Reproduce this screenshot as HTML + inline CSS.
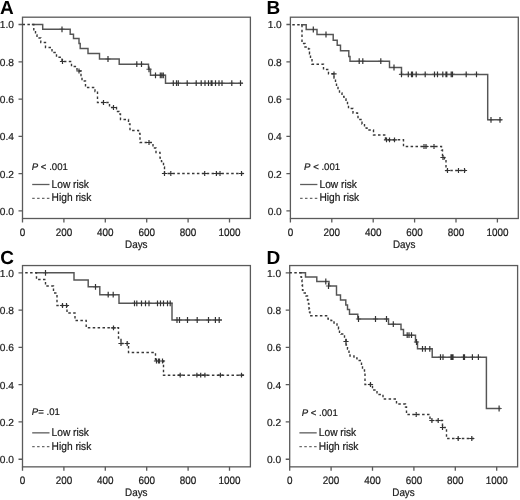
<!DOCTYPE html>
<html><head><meta charset="utf-8"><title>Kaplan-Meier curves</title>
<style>
html,body{margin:0;padding:0;background:#fff;}
body{width:520px;height:500px;overflow:hidden;}
svg{display:block;font-family:"Liberation Sans",sans-serif;}
text.lab{font-size:9.9px;fill:#1a1a1a;}
text.leg{font-size:10.2px;fill:#1a1a1a;}
text.ylab{font-size:10.2px;fill:#1a1a1a;}
text.pv{font-size:9.6px;fill:#1a1a1a;}
text{stroke:#1a1a1a;stroke-width:0.2px;}
svg{text-rendering:geometricPrecision;}
#wrap{width:520px;height:500px;will-change:transform;}
text.let{font-size:19px;font-weight:bold;fill:#000;stroke:none;}
</style></head>
<body>
<div id="wrap">
<svg width="520" height="500" viewBox="0 0 520 500">
<rect width="520" height="500" fill="#fff"/>
<g transform="translate(0.0,0.0)">
<rect x="22.5" y="17.2" width="227.9" height="201.3" fill="none" stroke="#5a5a5a" stroke-width="1.3"/>
<path d="M18.5,210.90H22.5M18.5,173.62H22.5M18.5,136.34H22.5M18.5,99.06H22.5M18.5,61.78H22.5M18.5,24.50H22.5M22.50,218.5V222.5M63.90,218.5V222.5M105.30,218.5V222.5M146.70,218.5V222.5M188.10,218.5V222.5M229.50,218.5V222.5" stroke="#5a5a5a" stroke-width="1.3" fill="none"/>
<text class="ylab" transform="translate(13.90,214.80) scale(1,1.0)" text-anchor="end">0.0</text><text class="ylab" transform="translate(13.90,177.52) scale(1,1.0)" text-anchor="end">0.2</text><text class="ylab" transform="translate(13.90,140.24) scale(1,1.0)" text-anchor="end">0.4</text><text class="ylab" transform="translate(13.90,102.96) scale(1,1.0)" text-anchor="end">0.6</text><text class="ylab" transform="translate(13.90,65.68) scale(1,1.0)" text-anchor="end">0.8</text><text class="ylab" transform="translate(13.90,28.40) scale(1,1.0)" text-anchor="end">1.0</text><text class="lab" transform="translate(22.50,235.60) scale(1,1.1)" text-anchor="middle">0</text><text class="lab" transform="translate(63.90,235.60) scale(1,1.1)" text-anchor="middle">200</text><text class="lab" transform="translate(105.30,235.60) scale(1,1.1)" text-anchor="middle">400</text><text class="lab" transform="translate(146.70,235.60) scale(1,1.1)" text-anchor="middle">600</text><text class="lab" transform="translate(188.10,235.60) scale(1,1.1)" text-anchor="middle">800</text><text class="lab" transform="translate(229.50,235.60) scale(1,1.1)" text-anchor="middle">1000</text>
<text class="lab" transform="translate(136.30,247.60) scale(1,1.1)" text-anchor="middle">Days</text>
<path d="M32.2,184.5H49.5" stroke="#5c5c5c" stroke-width="1.3" fill="none"/>
<path d="M32.2,198.3H49.5" stroke="#6a6a6a" stroke-width="1.2" fill="none" stroke-dasharray="2.5 2.4"/>
<text class="leg" transform="translate(51.60,187.70) scale(1,1.1)">Low risk</text>
<text class="leg" transform="translate(51.60,201.20) scale(1,1.1)">High risk</text>
</g>
<text class="let" x="0.0" y="13.6">A</text>
<text class="pv" transform="translate(31.80,169.50) scale(1,1.0)"><tspan font-style="italic">P</tspan> &lt; .001</text>
<path d="M59.4,29.3h5.2M105.4,59.0h5.2M134.2,64.2h5.2M138.9,64.2h5.2M146.4,69.3h5.2M152.9,75.3h5.2M157.7,75.3h5.2M159.2,75.3h5.2M160.7,75.3h5.2M170.7,83.2h5.2M173.9,83.2h5.2M175.7,83.2h5.2M184.6,83.2h5.2M193.6,83.2h5.2M198.6,83.2h5.2M202.4,83.2h5.2M205.9,83.2h5.2M208.6,83.2h5.2M209.4,83.2h5.2M212.9,83.2h5.2M216.4,83.2h5.2M219.4,83.2h5.2M229.2,83.2h5.2M237.9,83.2h5.2" stroke="#555555" stroke-width="1.1" fill="none"/>
<path d="M31.8,24.5 H42.7 V29.3 H70.2 V34.2 H73.5 V38.5 H79 V43.5 H80.2 V48.5 H88 V53.5 H99.5 V59 H119.2 V64.2 H148.5 V69.3 H150.5 V75.3 H165.5 V83.2 H243" stroke="#555555" stroke-width="1.45" fill="none"/>
<path d="M22.5,24.5 H33.8 V31 H35.5 V35 H37 V38 H40.8 V42.5 H45.5 V47.5 H52 V52.5 H56.5 V57.2 H62 V61.5 H71.5 V66.5 H77 V71 H81 V77 H82 V81 H85.5 V87.5 H95 V91.5 H97.5 V102.5 H109.5 V107.5 H116.5 V111.5 H119 V114 H120.5 V119.5 H128.5 V124 H130 V130.5 H138.5 V133.5 H140 V142.5 H153 V148 H156 V152.5 H160 V158 H161.5 V161.5 H163.5 V167 H164.5 V173.5 H244" stroke="#383838" stroke-width="1.4" fill="none" stroke-dasharray="2.5 2.4" stroke-dashoffset="0.0"/>
<path d="M62.0,26.4v5.8M108.0,56.1v5.8M136.8,61.3v5.8M141.5,61.3v5.8M149.0,66.4v5.8M155.5,72.4v5.8M160.3,72.4v5.8M161.8,72.4v5.8M163.3,72.4v5.8M173.3,80.3v5.8M176.5,80.3v5.8M178.3,80.3v5.8M187.2,80.3v5.8M196.2,80.3v5.8M201.2,80.3v5.8M205.0,80.3v5.8M208.5,80.3v5.8M211.2,80.3v5.8M212.0,80.3v5.8M215.5,80.3v5.8M219.0,80.3v5.8M222.0,80.3v5.8M231.8,80.3v5.8M240.5,80.3v5.8" stroke="#333333" stroke-width="1.2" fill="none"/>
<path d="M59.9,61.5h5.2M62.5,59.1v4.8M76.4,71.0h5.2M79.0,68.6v4.8M100.9,102.5h5.2M103.5,100.1v4.8M110.9,107.5h5.2M113.5,105.1v4.8M146.4,142.5h5.2M149.0,140.1v4.8M161.9,173.5h5.2M164.5,171.1v4.8M168.2,173.5h5.2M170.8,171.1v4.8M202.1,173.5h5.2M204.7,171.1v4.8M213.8,173.5h5.2M216.4,171.1v4.8M217.4,173.5h5.2M220.0,171.1v4.8M238.9,173.5h5.2M241.5,171.1v4.8" stroke="#333333" stroke-width="1.2" fill="none"/>
<g transform="translate(267.9,0.0)">
<rect x="22.5" y="17.2" width="227.9" height="201.3" fill="none" stroke="#5a5a5a" stroke-width="1.3"/>
<path d="M18.5,210.90H22.5M18.5,173.62H22.5M18.5,136.34H22.5M18.5,99.06H22.5M18.5,61.78H22.5M18.5,24.50H22.5M22.50,218.5V222.5M63.90,218.5V222.5M105.30,218.5V222.5M146.70,218.5V222.5M188.10,218.5V222.5M229.50,218.5V222.5" stroke="#5a5a5a" stroke-width="1.3" fill="none"/>
<text class="ylab" transform="translate(13.90,214.80) scale(1,1.0)" text-anchor="end">0.0</text><text class="ylab" transform="translate(13.90,177.52) scale(1,1.0)" text-anchor="end">0.2</text><text class="ylab" transform="translate(13.90,140.24) scale(1,1.0)" text-anchor="end">0.4</text><text class="ylab" transform="translate(13.90,102.96) scale(1,1.0)" text-anchor="end">0.6</text><text class="ylab" transform="translate(13.90,65.68) scale(1,1.0)" text-anchor="end">0.8</text><text class="ylab" transform="translate(13.90,28.40) scale(1,1.0)" text-anchor="end">1.0</text><text class="lab" transform="translate(22.50,235.60) scale(1,1.1)" text-anchor="middle">0</text><text class="lab" transform="translate(63.90,235.60) scale(1,1.1)" text-anchor="middle">200</text><text class="lab" transform="translate(105.30,235.60) scale(1,1.1)" text-anchor="middle">400</text><text class="lab" transform="translate(146.70,235.60) scale(1,1.1)" text-anchor="middle">600</text><text class="lab" transform="translate(188.10,235.60) scale(1,1.1)" text-anchor="middle">800</text><text class="lab" transform="translate(229.50,235.60) scale(1,1.1)" text-anchor="middle">1000</text>
<text class="lab" transform="translate(136.30,247.60) scale(1,1.1)" text-anchor="middle">Days</text>
<path d="M32.2,184.5H49.5" stroke="#5c5c5c" stroke-width="1.3" fill="none"/>
<path d="M32.2,198.3H49.5" stroke="#6a6a6a" stroke-width="1.2" fill="none" stroke-dasharray="2.5 2.4"/>
<text class="leg" transform="translate(51.60,187.70) scale(1,1.1)">Low risk</text>
<text class="leg" transform="translate(51.60,201.20) scale(1,1.1)">High risk</text>
</g>
<text class="let" x="266.4" y="13.6">B</text>
<text class="pv" transform="translate(304.10,169.90) scale(1,1.0)"><tspan font-style="italic">P</tspan> &lt; .001</text>
<path d="M310.7,29.5h5.2M323.4,34.5h5.2M356.6,61.2h5.2M360.2,61.2h5.2M378.2,61.2h5.2M391.4,67.5h5.2M398.9,74.4h5.2M405.7,74.4h5.2M408.9,74.4h5.2M409.9,74.4h5.2M413.6,74.4h5.2M422.6,74.4h5.2M431.9,74.4h5.2M434.9,74.4h5.2M440.2,74.4h5.2M443.4,74.4h5.2M444.2,74.4h5.2M448.6,74.4h5.2M449.9,74.4h5.2M463.6,74.4h5.2M473.9,74.4h5.2M488.4,119.8h5.2M497.4,119.8h5.2" stroke="#555555" stroke-width="1.1" fill="none"/>
<path d="M301,24.7 H306.2 V29.5 H317 V34.5 H333.2 V40.2 H337.2 V45.2 H340.5 V50.7 H348.8 V56.5 H350 V61.2 H389.5 V67.5 H401.5 V74.4 H487.7 V119.8 H502.2" stroke="#555555" stroke-width="1.45" fill="none"/>
<path d="M290.4,24.7 H302 V43.5 H305 V47 H308.5 V49 H309.5 V54 H310.5 V58 H312 V64.2 H323.5 V69.5 H328.5 V73.8 H334 V78 H335.5 V82 H336.5 V86 H338 V89.5 H339.5 V93 H342 V96.5 H344 V99 H346 V101 H347.5 V104.5 H348.5 V108.5 H353 V113 H357.5 V114.5 H358 V119.5 H362 V124 H364.5 V128 H367 V130 H373.5 V135 H385.5 V139.8 H403.5 V146.5 H441.5 V150 H442.5 V157.5 H444.5 V159 H446 V170.5 H466" stroke="#383838" stroke-width="1.4" fill="none" stroke-dasharray="2.5 2.4" stroke-dashoffset="3.0"/>
<path d="M313.3,26.6v5.8M326.0,31.6v5.8M359.2,58.3v5.8M362.8,58.3v5.8M380.8,58.3v5.8M394.0,64.6v5.8M401.5,71.5v5.8M408.3,71.5v5.8M411.5,71.5v5.8M412.5,71.5v5.8M416.2,71.5v5.8M425.2,71.5v5.8M434.5,71.5v5.8M437.5,71.5v5.8M442.8,71.5v5.8M446.0,71.5v5.8M446.8,71.5v5.8M451.2,71.5v5.8M452.5,71.5v5.8M466.2,71.5v5.8M476.5,71.5v5.8M491.0,116.9v5.8M500.0,116.9v5.8" stroke="#333333" stroke-width="1.2" fill="none"/>
<path d="M331.4,73.8h5.2M334.0,71.4v4.8M383.9,139.8h5.2M386.5,137.4v4.8M386.9,139.8h5.2M389.5,137.4v4.8M391.9,139.8h5.2M394.5,137.4v4.8M421.4,146.5h5.2M424.0,144.1v4.8M423.4,146.5h5.2M426.0,144.1v4.8M431.4,146.5h5.2M434.0,144.1v4.8M440.4,157.5h5.2M443.0,155.1v4.8M444.9,170.5h5.2M447.5,168.1v4.8M455.9,170.5h5.2M458.5,168.1v4.8M461.9,170.5h5.2M464.5,168.1v4.8" stroke="#333333" stroke-width="1.2" fill="none"/>
<g transform="translate(0.0,248.35)">
<rect x="22.5" y="17.2" width="227.9" height="201.3" fill="none" stroke="#5a5a5a" stroke-width="1.3"/>
<path d="M18.5,210.90H22.5M18.5,173.62H22.5M18.5,136.34H22.5M18.5,99.06H22.5M18.5,61.78H22.5M18.5,24.50H22.5M22.50,218.5V222.5M63.90,218.5V222.5M105.30,218.5V222.5M146.70,218.5V222.5M188.10,218.5V222.5M229.50,218.5V222.5" stroke="#5a5a5a" stroke-width="1.3" fill="none"/>
<text class="ylab" transform="translate(13.90,214.80) scale(1,1.0)" text-anchor="end">0.0</text><text class="ylab" transform="translate(13.90,177.52) scale(1,1.0)" text-anchor="end">0.2</text><text class="ylab" transform="translate(13.90,140.24) scale(1,1.0)" text-anchor="end">0.4</text><text class="ylab" transform="translate(13.90,102.96) scale(1,1.0)" text-anchor="end">0.6</text><text class="ylab" transform="translate(13.90,65.68) scale(1,1.0)" text-anchor="end">0.8</text><text class="ylab" transform="translate(13.90,28.40) scale(1,1.0)" text-anchor="end">1.0</text><text class="lab" transform="translate(22.50,235.60) scale(1,1.1)" text-anchor="middle">0</text><text class="lab" transform="translate(63.90,235.60) scale(1,1.1)" text-anchor="middle">200</text><text class="lab" transform="translate(105.30,235.60) scale(1,1.1)" text-anchor="middle">400</text><text class="lab" transform="translate(146.70,235.60) scale(1,1.1)" text-anchor="middle">600</text><text class="lab" transform="translate(188.10,235.60) scale(1,1.1)" text-anchor="middle">800</text><text class="lab" transform="translate(229.50,235.60) scale(1,1.1)" text-anchor="middle">1000</text>
<text class="lab" transform="translate(136.30,247.60) scale(1,1.1)" text-anchor="middle">Days</text>
<path d="M32.2,184.5H49.5" stroke="#5c5c5c" stroke-width="1.3" fill="none"/>
<path d="M32.2,198.3H49.5" stroke="#6a6a6a" stroke-width="1.2" fill="none" stroke-dasharray="2.5 2.4"/>
<text class="leg" transform="translate(51.60,187.70) scale(1,1.1)">Low risk</text>
<text class="leg" transform="translate(51.60,201.20) scale(1,1.1)">High risk</text>
</g>
<text class="let" x="0.2" y="263.5">C</text>
<text class="pv" transform="translate(31.80,415.20) scale(1,1.0)"><tspan font-style="italic">P</tspan>= .01</text>
<path d="M42.9,272.8h5.2M92.9,286.8h5.2M105.6,294.7h5.2M110.6,294.7h5.2M131.9,303.3h5.2M134.2,303.3h5.2M138.9,303.3h5.2M142.9,303.3h5.2M146.4,303.3h5.2M154.9,303.3h5.2M157.9,303.3h5.2M160.9,303.3h5.2M164.9,303.3h5.2M167.6,303.3h5.2M174.4,320.0h5.2M176.9,320.0h5.2M184.9,320.0h5.2M194.6,320.0h5.2M205.9,320.0h5.2M212.8,320.0h5.2M216.6,320.0h5.2" stroke="#555555" stroke-width="1.1" fill="none"/>
<path d="M35.3,272.8 H74 V280 H88.2 V286.8 H99.8 V294.7 H119 V303.3 H172 V320 H222" stroke="#555555" stroke-width="1.45" fill="none"/>
<path d="M22.5,272.8 H36.5 V279.5 H45.5 V286 H53.5 V293 H57 V305.5 H67 V313 H75 V320.5 H86.2 V327.8 H118.5 V338 H121 V343.5 H128.5 V352.5 H155.5 V361 H163.5 V375.2 H244.2" stroke="#383838" stroke-width="1.4" fill="none" stroke-dasharray="2.5 2.4" stroke-dashoffset="2.2"/>
<path d="M45.5,269.9v5.8M95.5,283.9v5.8M108.2,291.8v5.8M113.2,291.8v5.8M134.5,300.4v5.8M136.8,300.4v5.8M141.5,300.4v5.8M145.5,300.4v5.8M149.0,300.4v5.8M157.5,300.4v5.8M160.5,300.4v5.8M163.5,300.4v5.8M167.5,300.4v5.8M170.2,300.4v5.8M177.0,317.1v5.8M179.5,317.1v5.8M187.5,317.1v5.8M197.2,317.1v5.8M208.5,317.1v5.8M215.4,317.1v5.8M219.2,317.1v5.8" stroke="#333333" stroke-width="1.2" fill="none"/>
<path d="M59.9,305.5h5.2M62.5,303.1v4.8M63.9,305.5h5.2M66.5,303.1v4.8M110.9,327.8h5.2M113.5,325.4v4.8M118.4,343.5h5.2M121.0,341.1v4.8M124.6,343.5h5.2M127.2,341.1v4.8M153.9,361.0h5.2M156.5,358.6v4.8M155.9,361.0h5.2M158.5,358.6v4.8M156.9,361.0h5.2M159.5,358.6v4.8M159.9,361.0h5.2M162.5,358.6v4.8M177.6,375.2h5.2M180.2,372.8v4.8M194.3,375.2h5.2M196.9,372.8v4.8M198.1,375.2h5.2M200.7,372.8v4.8M202.3,375.2h5.2M204.9,372.8v4.8M217.8,375.2h5.2M220.4,372.8v4.8M238.9,375.2h5.2M241.5,372.8v4.8" stroke="#333333" stroke-width="1.2" fill="none"/>
<g transform="translate(267.2,248.35)">
<rect x="22.5" y="17.2" width="227.9" height="201.3" fill="none" stroke="#5a5a5a" stroke-width="1.3"/>
<path d="M18.5,210.90H22.5M18.5,173.62H22.5M18.5,136.34H22.5M18.5,99.06H22.5M18.5,61.78H22.5M18.5,24.50H22.5M22.50,218.5V222.5M63.90,218.5V222.5M105.30,218.5V222.5M146.70,218.5V222.5M188.10,218.5V222.5M229.50,218.5V222.5" stroke="#5a5a5a" stroke-width="1.3" fill="none"/>
<text class="ylab" transform="translate(13.90,214.80) scale(1,1.0)" text-anchor="end">0.0</text><text class="ylab" transform="translate(13.90,177.52) scale(1,1.0)" text-anchor="end">0.2</text><text class="ylab" transform="translate(13.90,140.24) scale(1,1.0)" text-anchor="end">0.4</text><text class="ylab" transform="translate(13.90,102.96) scale(1,1.0)" text-anchor="end">0.6</text><text class="ylab" transform="translate(13.90,65.68) scale(1,1.0)" text-anchor="end">0.8</text><text class="ylab" transform="translate(13.90,28.40) scale(1,1.0)" text-anchor="end">1.0</text><text class="lab" transform="translate(22.50,235.60) scale(1,1.1)" text-anchor="middle">0</text><text class="lab" transform="translate(63.90,235.60) scale(1,1.1)" text-anchor="middle">200</text><text class="lab" transform="translate(105.30,235.60) scale(1,1.1)" text-anchor="middle">400</text><text class="lab" transform="translate(146.70,235.60) scale(1,1.1)" text-anchor="middle">600</text><text class="lab" transform="translate(188.10,235.60) scale(1,1.1)" text-anchor="middle">800</text><text class="lab" transform="translate(229.50,235.60) scale(1,1.1)" text-anchor="middle">1000</text>
<text class="lab" transform="translate(136.30,247.60) scale(1,1.1)" text-anchor="middle">Days</text>
<path d="M32.2,184.5H49.5" stroke="#5c5c5c" stroke-width="1.3" fill="none"/>
<path d="M32.2,198.3H49.5" stroke="#6a6a6a" stroke-width="1.2" fill="none" stroke-dasharray="2.5 2.4"/>
<text class="leg" transform="translate(51.60,187.70) scale(1,1.1)">Low risk</text>
<text class="leg" transform="translate(51.60,201.20) scale(1,1.1)">High risk</text>
</g>
<text class="let" x="266.4" y="264.0">D</text>
<text class="pv" transform="translate(301.70,415.50) scale(1,1.0)"><tspan font-style="italic">P</tspan> &lt; .001</text>
<path d="M323.2,281.5h5.2M325.9,286.0h5.2M355.9,319.0h5.2M372.9,319.0h5.2M383.9,319.0h5.2M390.7,324.2h5.2M404.6,335.2h5.2M406.4,335.2h5.2M408.9,335.2h5.2M413.9,342.0h5.2M419.9,348.8h5.2M422.7,348.8h5.2M427.2,348.8h5.2M437.9,357.2h5.2M440.4,357.2h5.2M448.4,357.2h5.2M449.6,357.2h5.2M450.4,357.2h5.2M460.9,357.2h5.2M461.9,357.2h5.2M469.8,357.2h5.2M475.8,357.2h5.2M496.5,408.5h5.2" stroke="#555555" stroke-width="1.1" fill="none"/>
<path d="M299.25,272.8 H305.5 V277 H316.8 V281.5 H329 V286 H336.5 V295 H340.5 V300 H345.8 V305 H347.5 V309.5 H349.5 V314.3 H357.8 V319 H388.5 V324.2 H401 V329.5 H403.5 V335.2 H415.5 V342 H417.5 V348.8 H432.2 V357.2 H486.4 V408.5 H500.8" stroke="#555555" stroke-width="1.45" fill="none"/>
<path d="M289.6,272.8 H301 V277 H301.5 V280 H302 V285 H302.5 V290 H303 V293 H306 V296 H307.5 V300 H308.5 V304 H309 V309 H309.5 V312 H310 V315.8 H328 V319 H331 V320.5 H334 V323 H337 V325 H338.5 V329 H339.5 V333 H341 V334 H343.5 V335 H344.5 V338.5 H346 V345 H347.5 V349 H349 V353 H350 V356 H354 V358 H357 V360.5 H361.5 V365.5 H362.5 V370 H364.5 V373 H365 V384.5 H372.5 V390 H377 V394.5 H383 V399 H396.5 V404 H405.5 V407 H406.5 V414.5 H430 V420.5 H442.5 V427.5 H446.5 V438.5 H474" stroke="#383838" stroke-width="1.4" fill="none" stroke-dasharray="2.5 2.4" stroke-dashoffset="0.2"/>
<path d="M325.8,278.6v5.8M328.5,283.1v5.8M358.5,316.1v5.8M375.5,316.1v5.8M386.5,316.1v5.8M393.3,321.3v5.8M407.2,332.3v5.8M409.0,332.3v5.8M411.5,332.3v5.8M416.5,339.1v5.8M422.5,345.9v5.8M425.3,345.9v5.8M429.8,345.9v5.8M440.5,354.3v5.8M443.0,354.3v5.8M451.0,354.3v5.8M452.2,354.3v5.8M453.0,354.3v5.8M463.5,354.3v5.8M464.5,354.3v5.8M472.4,354.3v5.8M478.4,354.3v5.8M499.1,405.6v5.8" stroke="#333333" stroke-width="1.2" fill="none"/>
<path d="M343.4,341.5h5.2M346.0,339.1v4.8M367.9,384.5h5.2M370.5,382.1v4.8M413.6,414.5h5.2M416.2,412.1v4.8M429.3,420.5h5.2M431.9,418.1v4.8M435.6,420.5h5.2M438.2,418.1v4.8M439.9,427.5h5.2M442.5,425.1v4.8M455.6,438.5h5.2M458.2,436.1v4.8M469.2,438.5h5.2M471.8,436.1v4.8" stroke="#333333" stroke-width="1.2" fill="none"/>
</svg>
</div>
</body></html>
